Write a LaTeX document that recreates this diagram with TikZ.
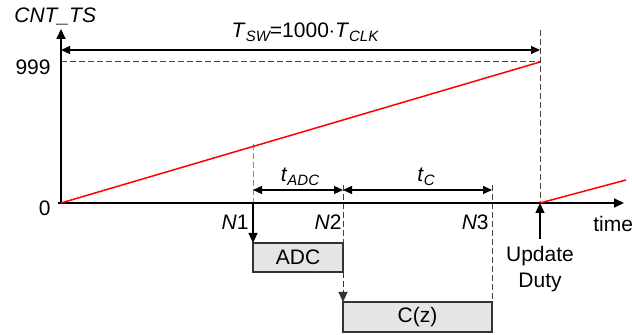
\documentclass[tikz,border=0pt]{standalone}
\usepackage{fontspec}
\setmainfont{Liberation Sans}
\usetikzlibrary{arrows.meta}
\newcommand{\mysub}[1]{\raisebox{-2pt}{\fontsize{7.5}{8}\selectfont\itshape #1}}
\begin{document}
\begin{tikzpicture}[x=0.5pt,y=-0.5pt,
  font=\fontsize{10.5}{13}\selectfont,
  tip/.style={-{Triangle[length=5pt,width=4.5pt]}},
  axis/.style={line width=0.85pt,tip},
  dim/.style={line width=0.6pt,{Triangle[length=4.5pt,width=4pt]}-{Triangle[length=4.5pt,width=4pt]}},
  guide/.style={dashed,dash pattern=on 3pt off 1.5pt,line width=0.5pt,black!75},
  lguide/.style={guide,black!45},
  ramp/.style={red,line width=0.75pt},
  blk/.style={draw=black!80,fill=black!10,line width=0.6pt,inner sep=0pt,outer sep=0pt,anchor=north west},
  lbl/.style={inner sep=0pt}]
\useasboundingbox (0,0) rectangle (632,335);
% coordinates
\coordinate (O) at (61,203);
\coordinate (ytop) at (61,29);
\coordinate (xend) at (624,203);
\coordinate (top) at (540,62);
\coordinate (upd) at (540,203);
\coordinate (updtop) at (540,30);
\coordinate (ramp2) at (626,180);
\coordinate (n1r) at (253,144);
\coordinate (n1a) at (253,203);
\coordinate (n2t) at (343,185);
\coordinate (n3t) at (492,185);
\coordinate (ya) at (61,62);
\coordinate (tswl) at (61,50);
\coordinate (tswr) at (540,50);
\coordinate (ta1) at (253,190);
\coordinate (ta2) at (343,190);
\coordinate (tc2) at (492,190);
\coordinate (updbot) at (540,239);
% boxes
\node[blk,minimum width=45pt,minimum height=14.5pt] (adc) at (253,243) {ADC};
\node[blk,minimum width=74.5pt,minimum height=15pt] (cz) at (343,302) {C(z)};
% guides
\draw[guide] (ya) -- (top);
\draw[guide] (updtop) -- (upd);
\draw[lguide] (n1r) -- (n1a);
\draw[guide] (n2t) -- (adc.north east);
\draw[guide] (n3t) -- (cz.north east);
% axes
\draw[axis] (58,203) -- (xend);
\draw[axis] (O) -- (ytop);
% ramps
\draw[ramp] (O) -- (top);
\draw[ramp] (upd) -- (ramp2);
% arrows
\draw[line width=0.6pt,tip] (n1a) -- (adc.north west);
\draw[guide,black!80,tip] (adc.south east) -- (cz.north west);
\draw[line width=0.7pt,tip] (updbot) -- (upd);
\draw[dim] (tswl) -- (tswr);
\draw[dim] (ta1) -- (ta2);
\draw[dim] (ta2) -- (tc2);
% labels
\node[lbl,anchor=west] (cnt) at (14,16) {\itshape CNT\_TS};
\node[lbl,anchor=east] (l999) at (51,67) {999};
\node[lbl,anchor=east] (l0) at (51,208) {0};
\node[lbl,anchor=base] (tsw) at (305,38) {\textit{T}\mysub{SW}=1000$\cdot$\textit{T}\mysub{CLK}};
\node[lbl,anchor=base] (tadc) at (300,182) {\textit{t}\mysub{ADC}};
\node[lbl,anchor=base] (tc) at (426,182) {\textit{t}\mysub{C}};
\node[lbl,anchor=base east] (n1) at (249,230) {\textit{N}1};
\node[lbl,anchor=base east] (n2) at (342,230) {\textit{N}2};
\node[lbl,anchor=base east] (n3) at (489,230) {\textit{N}3};
\node[lbl,anchor=base west] (time) at (593,232) {time};
\node[lbl,anchor=base] (upd1) at (540,262) {Update};
\node[lbl,anchor=base] (upd2) at (540,288) {Duty};
\end{tikzpicture}
\end{document}
